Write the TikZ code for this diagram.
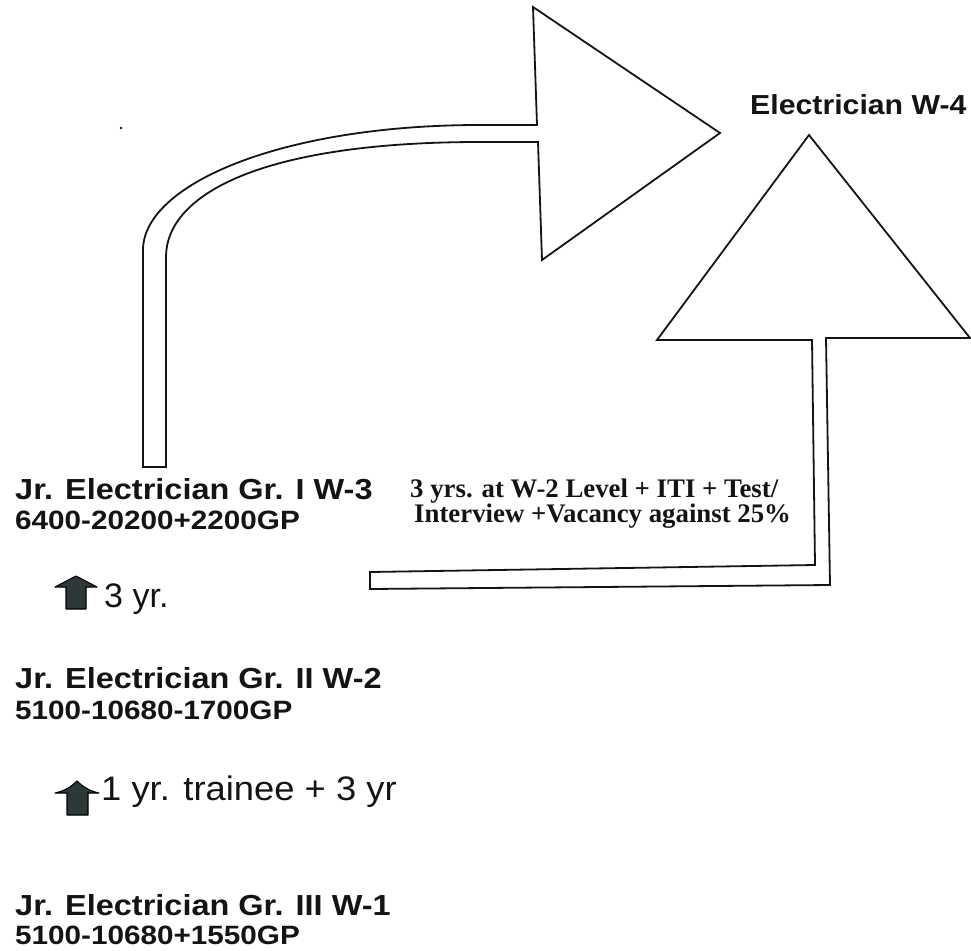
\documentclass[tikz,border=0pt]{standalone}
\usepackage{graphicx}
\usepackage{fontspec}
\setmainfont{Liberation Sans}
\newfontfamily\tms{Liberation Serif}
\definecolor{iconfill}{HTML}{2E3838}
\definecolor{ink}{HTML}{141414}
\newcommand{\wide}[2]{\scalebox{#1}[1]{#2}}
\begin{document}
\begin{tikzpicture}[x=1pt,y=-1pt,
  blk/.style={draw=ink, line width=1.8pt, line join=miter, fill=white},
  ttl/.style={anchor=base west, inner sep=0pt, text=ink, font=\fontsize{29}{33}\selectfont\bfseries},
  pay/.style={anchor=base west, inner sep=0pt, text=ink, font=\fontsize{26.5}{30}\selectfont\bfseries},
  yrs/.style={anchor=base west, inner sep=0pt, text=ink, font=\fontsize{34}{38}\selectfont},
  cond/.style={anchor=base west, inner sep=0pt, text=ink, font=\fontsize{26.8}{30}\selectfont\tms\bfseries},
  icon/.style={draw=black, line width=1.1pt, fill=iconfill, line join=round}]
\useasboundingbox (0,0) rectangle (971,950);

% upper curved block arrow (W-3 -> W-4)
\draw[blk] (143,467) -- (143,250)
  .. controls (143,185) and (280,125) .. (480,125) -- (537,125)
  -- (533,7) -- (720,133) -- (542,260) -- (538,142) -- (480,142)
  .. controls (260,142) and (166,195) .. (166,257) -- (166,467) -- cycle;

% lower block arrow (W-2 condition -> W-4)
\draw[blk] (370,572) -- (815,565) -- (812,340) -- (657,340) -- (809,135)
  -- (970,338) -- (826,338) -- (830,585) -- (370,589) -- cycle;

% stray dot
\fill[ink] (121,128) circle (1.3);

% texts
\node[ttl, font=\fontsize{27.5}{31}\selectfont\bfseries] (w4) at (750,114) {\wide{1.1}{Electrician W-4}};
\node[ttl] (w3) at (15,499) {\wide{1.12}{Jr. Electrician Gr. I W-3}};
\node[pay] (w3p) at (15,529) {\wide{1.12}{6400-20200+2200GP}};
\node[cond] (c1) at (410,497) {3 yrs. at W-2 Level + ITI + Test/};
\node[cond] (c2) at (414,522) {Interview +Vacancy against 25\%};
\node[yrs] (y1) at (104,607) {3 yr.};
\node[ttl] (w2) at (15,688) {\wide{1.12}{Jr. Electrician Gr. II W-2}};
\node[pay] (w2p) at (15,719) {\wide{1.12}{5100-10680-1700GP}};
\node[yrs] (y2) at (101,800) {\wide{1.07}{1 yr. trainee + 3 yr}};
\node[ttl] (w1) at (15,915) {\wide{1.12}{Jr. Electrician Gr. III W-1}};
\node[pay] (w1p) at (15,944) {\wide{1.12}{5100-10680+1550GP}};

% small up-arrow icons
\draw[icon] (66,609) -- (66,587) -- (55,587) -- (76,576) -- (97,587)
  -- (86,587) -- (86,609) -- cycle;
\draw[icon] (67,815) -- (67,793) -- (55,793) .. controls (65,791) and (72,786) .. (77,781)
  .. controls (82,786) and (89,791) .. (99,793) -- (88,793) -- (88,815) -- cycle;
\end{tikzpicture}
\end{document}
